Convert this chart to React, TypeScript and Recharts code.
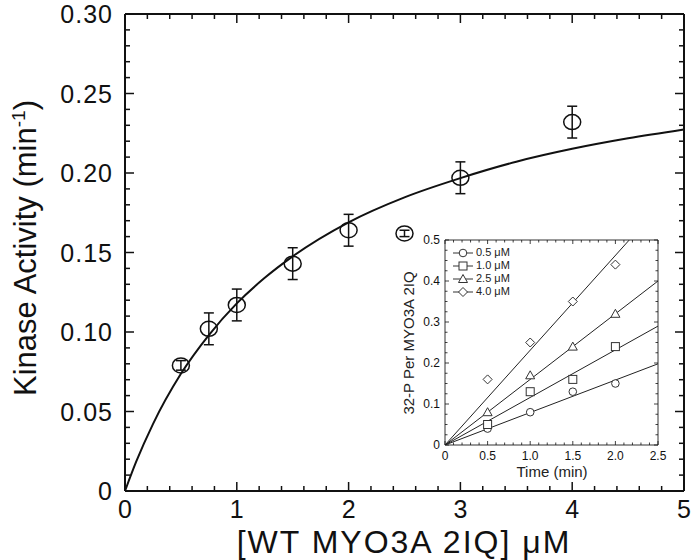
import React from 'react';
import { ComposedChart, Scatter, Line, XAxis, YAxis, ErrorBar } from 'recharts';

// main plot: kinase activity vs [WT MYO3A 2IQ]
const concUM = [0.5, 0.75, 1.0, 1.5, 2.0, 2.5, 3.0, 4.0];
const kinaseRate = [0.079, 0.102, 0.117, 0.143, 0.164, 0.162, 0.197, 0.232];
const rateErr = [0.003, 0.010, 0.010, 0.010, 0.010, 0.002, 0.010, 0.010];

// fitted hyperbola
const fitConc = [0, 0.1, 0.25, 0.5, 0.75, 1, 1.25, 1.5, 2, 2.5, 3, 3.5, 4, 4.5, 5];
const fitRate = [0, 0.0184, 0.0421, 0.0737, 0.0981, 0.118, 0.1341, 0.1476, 0.169, 0.1847, 0.1968, 0.2071, 0.2152, 0.2218, 0.2274];

const mainXTicks = [0, 0.2, 0.4, 0.6, 0.8, 1, 1.2, 1.4, 1.6, 1.8, 2, 2.2, 2.4, 2.6, 2.8, 3, 3.2, 3.4, 3.6, 3.8, 4, 4.2, 4.4, 4.6, 4.8, 5];
const mainYTicks = [0, 0.01, 0.02, 0.03, 0.04, 0.05, 0.06, 0.07, 0.08, 0.09, 0.1, 0.11, 0.12, 0.13, 0.14, 0.15, 0.16, 0.17, 0.18, 0.19, 0.2, 0.21, 0.22, 0.23, 0.24, 0.25, 0.26, 0.27, 0.28, 0.29, 0.3];

// inset: 32-P incorporation time course
const timeMin = [0.5, 1.0, 1.5, 2.0];
const p05 = [0.04, 0.08, 0.13, 0.15];
const p10 = [0.05, 0.13, 0.16, 0.24];
const p25 = [0.08, 0.17, 0.24, 0.32];
const p40 = [0.16, 0.25, 0.35, 0.44];
const insetLabels = ['0.5 μM', '1.0 μM', '2.5 μM', '4.0 μM'];
const fitTime = [0, 2.5];
const fitStart = [0, 0, 0, 0];
const fitEnd = [0.198, 0.29, 0.40, 0.578];

const insetXTicks = [0, 0.1, 0.2, 0.3, 0.4, 0.5, 0.6, 0.7, 0.8, 0.9, 1, 1.1, 1.2, 1.3, 1.4, 1.5, 1.6, 1.7, 1.8, 1.9, 2, 2.1, 2.2, 2.3, 2.4, 2.5];
const insetYTicks = [0, 0.025, 0.05, 0.075, 0.1, 0.125, 0.15, 0.175, 0.2, 0.225, 0.25, 0.275, 0.3, 0.325, 0.35, 0.375, 0.4, 0.425, 0.45, 0.475, 0.5];

const FONT = '"Liberation Sans", Arial, Helvetica, sans-serif';
const INK = '#111';

const mainPoints = concUM.map((c, i) => ({ x: c, y: kinaseRate[i], err: rateErr[i] }));
const fitCurve = fitConc.map((c, i) => ({ x: c, y: fitRate[i] }));

const seriesPts = [p05, p10, p25, p40].map((vals) => timeMin.map((t, i) => ({ t, v: vals[i] })));
const fitLines = fitEnd.map((e, k) => [
  { t: fitTime[0], v: fitStart[k] },
  { t: fitTime[1], v: e },
]);

const onStep = (step: number) => (v: number) => Math.abs(v / step - Math.round(v / step)) < 1e-6;

type Side = 'bottom' | 'top' | 'left' | 'right';

// ticks point inward; labels only on major ticks
const makeTick = (
  side: Side,
  isMajor: (v: number) => boolean,
  fmt: ((v: number) => string) | null,
  majorLen: number,
  minorLen: number,
  fontSize: number,
  gap: number,
  sw: number,
  spacing = 0
) => (props: any) => {
  const { x, y, payload } = props;
  const v = payload.value;
  const major = isMajor(v);
  const len = major ? majorLen : minorLen;
  let x2 = x;
  let y2 = y;
  if (side === 'bottom') y2 = y - len;
  if (side === 'top') y2 = y + len;
  if (side === 'left') x2 = x + len;
  if (side === 'right') x2 = x - len;
  let label = null;
  if (fmt && major) {
    if (side === 'bottom') {
      label = (
        <text x={x} y={y + gap} textAnchor="middle" dominantBaseline="hanging" fontSize={fontSize} fontFamily={FONT} fill={INK} letterSpacing={spacing}>
          {fmt(v)}
        </text>
      );
    } else if (side === 'left') {
      label = (
        <text x={x - gap} y={y} textAnchor="end" dominantBaseline="central" fontSize={fontSize} fontFamily={FONT} fill={INK} letterSpacing={spacing}>
          {fmt(v)}
        </text>
      );
    }
  }
  return (
    <g>
      <line x1={x} y1={y} x2={x2} y2={y2} stroke={INK} strokeWidth={sw} />
      {label}
    </g>
  );
};

const mainIntX = onStep(1);
const mainMajY = onStep(0.05);
const insetMajX = onStep(0.5);
const insetMajY = onStep(0.1);

const fmtMainY = (v: number) => (v === 0 ? '0' : v.toFixed(2));
const fmtMainX = (v: number) => String(Math.round(v));
const fmtInset = (v: number) => (v === 0 ? '0' : v.toFixed(1));

const OpenEllipse = (props: any) => {
  const { cx, cy } = props;
  return <ellipse cx={cx} cy={cy} rx={8.5} ry={7.5} fill="none" stroke={INK} strokeWidth={1.5} />;
};

const markerPath = (kind: number, cx: number, cy: number) => {
  if (kind === 0) return <circle cx={cx} cy={cy} r={3.8} fill="#fff" stroke="#333" strokeWidth={1} />;
  if (kind === 1) return <rect x={cx - 4} y={cy - 4} width={8} height={8} fill="#fff" stroke="#333" strokeWidth={1} />;
  if (kind === 2)
    return <polygon points={`${cx},${cy - 4.5} ${cx + 4.5},${cy + 3.5} ${cx - 4.5},${cy + 3.5}`} fill="#fff" stroke="#333" strokeWidth={1} />;
  return <polygon points={`${cx},${cy - 4.5} ${cx + 4.5},${cy} ${cx},${cy + 4.5} ${cx - 4.5},${cy}`} fill="#fff" stroke="#333" strokeWidth={1} />;
};

const makeMarker = (kind: number) => (props: any) => markerPath(kind, props.cx, props.cy);

const MainChart = () => (
  <ComposedChart width={693} height={560} margin={{ top: 13, right: 8, bottom: 29, left: 65 }}>
    <XAxis
      xAxisId="b"
      dataKey="x"
      type="number"
      domain={[0, 5]}
      allowDataOverflow
      ticks={mainXTicks}
      interval={0}
      height={40}
      tickSize={0}
      tickMargin={0}
      axisLine={{ stroke: INK, strokeWidth: 2 }}
      tickLine={false}
      tick={makeTick('bottom', mainIntX, fmtMainX, 9, 5, 25, 9, 1.5)}
    />
    <XAxis
      xAxisId="t"
      orientation="top"
      dataKey="x"
      type="number"
      domain={[0, 5]}
      allowDataOverflow
      ticks={mainXTicks}
      interval={0}
      height={1}
      tickSize={0}
      tickMargin={0}
      axisLine={{ stroke: INK, strokeWidth: 2 }}
      tickLine={false}
      tick={makeTick('top', mainIntX, null, 9, 5, 0, 0, 1.5)}
    />
    <YAxis
      yAxisId="l"
      dataKey="y"
      type="number"
      domain={[0, 0.3]}
      allowDataOverflow
      ticks={mainYTicks}
      interval={0}
      width={60}
      tickSize={0}
      tickMargin={0}
      axisLine={{ stroke: INK, strokeWidth: 2 }}
      tickLine={false}
      tick={makeTick('left', mainMajY, fmtMainY, 9, 5, 25, 12, 1.5, 1)}
    />
    <YAxis
      yAxisId="r"
      orientation="right"
      dataKey="y"
      type="number"
      domain={[0, 0.3]}
      allowDataOverflow
      ticks={mainYTicks}
      interval={0}
      width={1}
      tickSize={0}
      tickMargin={0}
      axisLine={{ stroke: INK, strokeWidth: 2 }}
      tickLine={false}
      tick={makeTick('right', mainMajY, null, 9, 5, 0, 0, 1.5)}
    />
    <Line
      xAxisId="b"
      yAxisId="l"
      data={fitCurve}
      dataKey="y"
      type="monotone"
      stroke={INK}
      strokeWidth={2}
      dot={false}
      activeDot={false}
      isAnimationActive={false}
    />
    <Scatter xAxisId="b" yAxisId="l" data={mainPoints} dataKey="y" shape={OpenEllipse} isAnimationActive={false}>
      <ErrorBar dataKey="err" direction="y" width={5} stroke={INK} strokeWidth={1.5} />
    </Scatter>
  </ComposedChart>
);

const InsetChart = () => (
  <ComposedChart width={300} height={265} margin={{ top: 11, right: 21, bottom: 18, left: 25 }}>
    <XAxis
      xAxisId="b"
      dataKey="t"
      type="number"
      domain={[0, 2.5]}
      allowDataOverflow
      ticks={insetXTicks}
      interval={0}
      height={30}
      tickSize={0}
      tickMargin={0}
      axisLine={{ stroke: '#333', strokeWidth: 1 }}
      tickLine={false}
      tick={makeTick('bottom', insetMajX, fmtInset, 4, 2.5, 12, 6, 0.8)}
    />
    <XAxis
      xAxisId="t"
      orientation="top"
      dataKey="t"
      type="number"
      domain={[0, 2.5]}
      allowDataOverflow
      ticks={insetXTicks}
      interval={0}
      height={1}
      tickSize={0}
      tickMargin={0}
      axisLine={{ stroke: '#333', strokeWidth: 1 }}
      tickLine={false}
      tick={makeTick('top', insetMajX, null, 4, 2.5, 0, 0, 0.8)}
    />
    <YAxis
      yAxisId="l"
      dataKey="v"
      type="number"
      domain={[0, 0.5]}
      allowDataOverflow
      ticks={insetYTicks}
      interval={0}
      width={40}
      tickSize={0}
      tickMargin={0}
      axisLine={{ stroke: '#333', strokeWidth: 1 }}
      tickLine={false}
      tick={makeTick('left', insetMajY, fmtInset, 4, 2.5, 12, 5, 0.8)}
    />
    <YAxis
      yAxisId="r"
      orientation="right"
      dataKey="v"
      type="number"
      domain={[0, 0.5]}
      allowDataOverflow
      ticks={insetYTicks}
      interval={0}
      width={1}
      tickSize={0}
      tickMargin={0}
      axisLine={{ stroke: '#333', strokeWidth: 1 }}
      tickLine={false}
      tick={makeTick('right', insetMajY, null, 4, 2.5, 0, 0, 0.8)}
    />
    {fitLines.map((d, k) => (
      <Line
        key={'fit' + k}
        xAxisId="b"
        yAxisId="l"
        data={d}
        dataKey="v"
        type="linear"
        stroke="#222"
        strokeWidth={1}
        dot={false}
        activeDot={false}
        isAnimationActive={false}
      />
    ))}
    {seriesPts.map((d, k) => (
      <Scatter
        key={'pts' + k}
        xAxisId="b"
        yAxisId="l"
        data={d}
        dataKey="v"
        shape={makeMarker(k)}
        isAnimationActive={false}
      />
    ))}
  </ComposedChart>
);

const InsetLegend = () => (
  <div style={{ position: 'absolute', left: 452, top: 246, fontFamily: FONT, fontSize: 11, color: '#222', lineHeight: '13px' }}>
    {insetLabels.map((lab, k) => (
      <div key={lab} style={{ display: 'flex', alignItems: 'center', height: 13 }}>
        <svg width={22} height={12} style={{ marginRight: 2 }}>
          <line x1={1} y1={6} x2={21} y2={6} stroke="#333" strokeWidth={1} />
          {markerPath(k, 11, 6)}
        </svg>
        <span>{lab}</span>
      </div>
    ))}
  </div>
);

export default function App() {
  return (
    <div style={{ position: 'absolute', left: 0, top: 0, width: 693, height: 560, background: '#fff', fontFamily: FONT }}>
      <MainChart />
      <div style={{ position: 'absolute', left: 380, top: 228 }}>
        <InsetChart />
      </div>
      <InsetLegend />
      <div
        style={{
          position: 'absolute',
          left: 25,
          top: 248,
          transform: 'translate(-50%, -50%) rotate(-90deg)',
          whiteSpace: 'nowrap',
          fontSize: 31,
          lineHeight: 1,
          color: INK,
        }}
      >
        Kinase Activity (min<sup style={{ fontSize: 19 }}>-1</sup>)
      </div>
      <div
        style={{
          position: 'absolute',
          left: 404,
          top: 542,
          transform: 'translate(-50%, -50%)',
          whiteSpace: 'nowrap',
          fontSize: 32,
          lineHeight: 1,
          letterSpacing: 2,
          color: INK,
        }}
      >
        [WT MYO3A 2IQ] μM
      </div>
      <div
        style={{
          position: 'absolute',
          left: 408,
          top: 343,
          transform: 'translate(-50%, -50%) rotate(-90deg)',
          whiteSpace: 'nowrap',
          fontSize: 15,
          lineHeight: 1,
          color: '#222',
        }}
      >
        32-P Per MYO3A 2IQ
      </div>
      <div
        style={{
          position: 'absolute',
          left: 552,
          top: 471,
          transform: 'translate(-50%, -50%)',
          whiteSpace: 'nowrap',
          fontSize: 15,
          lineHeight: 1,
          color: '#222',
        }}
      >
        Time (min)
      </div>
    </div>
  );
}
